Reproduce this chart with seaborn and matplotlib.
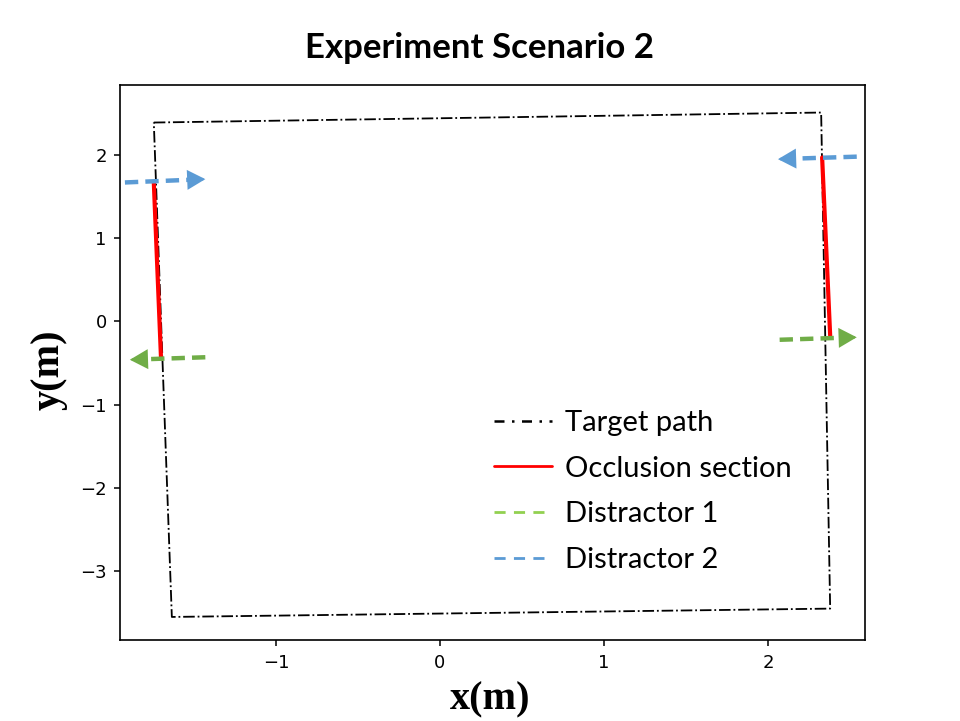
import matplotlib
matplotlib.use('Agg')
import matplotlib.pyplot as plt
import seaborn as sns
import pandas as pd
from matplotlib.lines import Line2D

# Target path corners (closed loop)
path_x = [-1.744, 2.323, 2.378, -1.634, -1.744]
path_y = [2.39, 2.51, -3.45, -3.55, 2.39]

# Occlusion sections
occ_left_x = [-1.744, -1.70]
occ_left_y = [1.67, -0.445]
occ_right_x = [2.329, 2.378]
occ_right_y = [1.97, -0.17]

# Distractor arrows: start and end points
d1_start_x = [-1.43, 2.07]
d1_start_y = [-0.43, -0.22]
d1_end_x = [-1.89, 2.54]
d1_end_y = [-0.46, -0.19]
d2_start_x = [-1.92, 2.54]
d2_start_y = [1.67, 1.98]
d2_end_x = [-1.43, 2.06]
d2_end_y = [1.71, 1.95]

arrow_green = '#70AD47'
arrow_blue = '#5B9BD5'
legend_green = '#92D050'

sns.set_style('ticks')
plt.rcParams['text.color'] = 'black'
plt.rcParams['xtick.color'] = 'black'
plt.rcParams['ytick.color'] = 'black'
plt.rcParams['axes.labelcolor'] = 'black'

fig = plt.figure(figsize=(9.6, 7.21), dpi=100)
ax = fig.add_axes([0.125, 0.112, 0.776, 0.770])

df_path = pd.DataFrame({'x': path_x, 'y': path_y})
sns.lineplot(x='x', y='y', data=df_path, sort=False, estimator=None,
             color='black', linestyle='-.', linewidth=1.3, ax=ax)

for xs, ys in [(occ_left_x, occ_left_y), (occ_right_x, occ_right_y)]:
    df_occ = pd.DataFrame({'x': xs, 'y': ys})
    sns.lineplot(x='x', y='y', data=df_occ, sort=False, estimator=None,
                 color='red', linewidth=3, ax=ax)

def draw_arrow(x0, y0, x1, y1, color):
    # dashed shaft stops short of the tip, head drawn solid
    frac = 0.8
    xm = x0 + (x1 - x0) * frac
    ym = y0 + (y1 - y0) * frac
    ax.plot([x0, xm], [y0, ym], color=color, linestyle=(0, (3, 1.6)),
            linewidth=3.2, zorder=4)
    ax.annotate('', xy=(x1, y1), xytext=(xm, ym),
                arrowprops=dict(arrowstyle='-|>,head_length=1.0,head_width=0.55',
                                color=color, lw=2, shrinkA=0, shrinkB=0,
                                joinstyle='miter'),
                zorder=4)

for i in range(2):
    draw_arrow(d1_start_x[i], d1_start_y[i], d1_end_x[i], d1_end_y[i], arrow_green)
    draw_arrow(d2_start_x[i], d2_start_y[i], d2_end_x[i], d2_end_y[i], arrow_blue)

ax.set_xlim(-1.95, 2.59)
ax.set_ylim(-3.83, 2.84)
ax.set_xticks([-1, 0, 1, 2])
ax.set_yticks([-3, -2, -1, 0, 1, 2])
ax.tick_params(labelsize=13, colors='black', length=4.6, width=1.1, pad=5)
for s in ax.spines.values():
    s.set_visible(True)
    s.set_linewidth(1.2)
    s.set_color('black')

ax.set_xlabel('x(m)', fontsize=29, fontweight='bold', family='Liberation Serif')
ax.set_ylabel('y(m)', fontsize=29, fontweight='bold', family='Liberation Serif')
ax.xaxis.label.set_va('center')
ax.yaxis.label.set_va('center')
ax.xaxis.set_label_coords(0.497, -0.108)
ax.yaxis.set_label_coords(-0.095, 0.488)

fig.text(0.499, 0.933, 'Experiment Scenario 2', ha='center', va='center',
         fontsize=25, fontweight='bold', family='Lato', color='black')

handles = [
    Line2D([], [], color='black', linestyle=(0, (4, 3, 1, 3)), linewidth=1.8),
    Line2D([], [], color='red', linewidth=2),
    Line2D([], [], color=legend_green, linestyle=(0, (4, 3)), linewidth=2),
    Line2D([], [], color=arrow_blue, linestyle=(0, (4, 3)), linewidth=2),
]
labels = ['Target path', 'Occlusion section', 'Distractor 1', 'Distractor 2']
ax.legend(handles, labels, loc='center left', bbox_to_anchor=(0.467, 0.268),
          frameon=False, prop={'family': 'Lato', 'size': 21},
          handlelength=2.0, handletextpad=0.43, labelspacing=0.68)

fig.savefig('out.png', dpi=100)
